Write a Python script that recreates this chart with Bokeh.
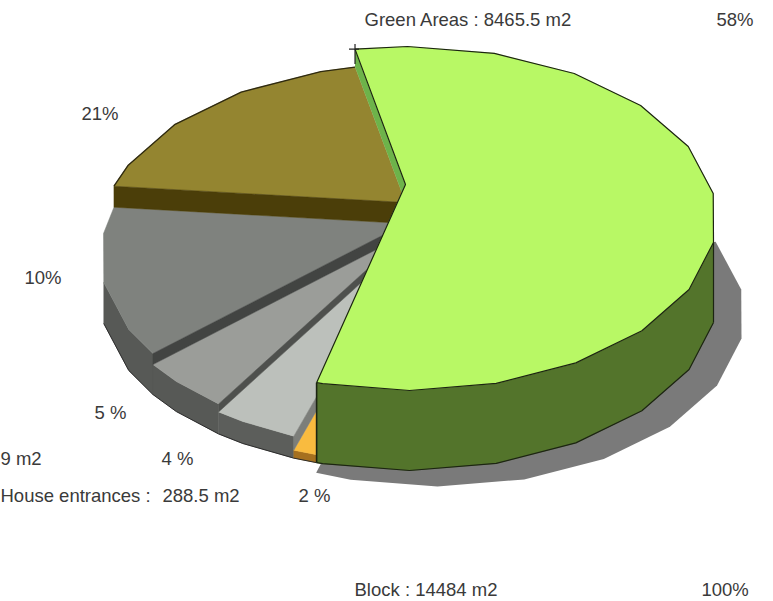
import math
from bokeh.plotting import figure
from bokeh.models import Range1d
from bokeh.core.properties import value
from bokeh.embed import file_html
from bokeh.resources import INLINE

# Slices clockwise from the top
slice_names = ["Green Areas", "House entrances", "Light grey", "Mid grey", "Dark grey", "Olive"]
slice_share_pct = [57.6, 1.25, 4.5, 5.0, 14.15, 17.5]   # as actually drawn in the picture
slice_height = [80, 8, 22, 30, 41, 62]
top_colors = ["#b8f865", "#f9bb3f", "#bcc0bb", "#9b9d99", "#7f827e", "#948530"]
side_colors = ["#53742b", "#a5701f", "#5c5e5b", "#575956", "#575956", "#4b3e09"]
radial_wall_colors = ["#6db34a", None, "#7c7e7a", "#4e504d", "#424442", "#4b3e09"]

labels = ["Green Areas : 8465.5 m2", "58%", "21%", "10%", "5 %", "9 m2", "4 %",
          "House entrances :", "288.5 m2", "2 %", "Block : 14484 m2", "100%"]
label_x = [364, 716, 81, 24, 94, 0, 161, 0, 162, 298, 354, 701]
label_y = [19, 19, 113, 277, 412, 458, 458, 495, 495, 495, 589, 589]

# Projection of the pie on the page (image pixels)
CX, BASE_CY, RX, RY = 408, 298, 308, 172
APEX_DX, APEX_DY = -3, -34
START_DEG = 100.0
FACET_DEG = 360 / 22
FACET_OFFSET = -8.0
WALL_LIMIT_DEG = FACET_OFFSET - 10 * FACET_DEG
SHADOW_DX, SHADOW_DY = 28, 16
LINE = "#1c2412"

W, H = 773, 601
p = figure(width=W, height=H, x_range=Range1d(0, W), y_range=Range1d(H, 0),
           output_backend="svg", toolbar_location=None, min_border=0,
           x_axis_location=None, y_axis_location=None)
p.grid.visible = False
p.outline_line_color = None
p.background_fill_color = "white"


def rim(a, h, dx=0, dy=0):
    r = math.radians(a)
    return CX + dx + RX * math.cos(r), BASE_CY - h + dy - RY * math.sin(r)


def arc_angles(a0, a1):
    """Angles from a0 down to a1 (clockwise) through the facet vertices."""
    out = [a0]
    k = math.floor((a0 - FACET_OFFSET) / FACET_DEG)
    a = FACET_OFFSET + k * FACET_DEG
    while a > a1 + 0.3:
        if a < a0 - 0.3:
            out.append(a)
        a -= FACET_DEG
    out.append(a1)
    return out


def arc(a0, a1, h, dx=0, dy=0):
    pts = [rim(a, h, dx, dy) for a in arc_angles(a0, a1)]
    return [q[0] for q in pts], [q[1] for q in pts]


def apex(h):
    return CX + APEX_DX, BASE_CY - h + APEX_DY


def wall_span(a0, a1):
    """Part of a slice's outer wall that faces the viewer."""
    lo, hi = max(a1, WALL_LIMIT_DEG), min(a0, FACET_OFFSET)
    return (hi, lo) if hi > lo else None


# Slice boundaries from the shares
edges = [START_DEG]
for s in slice_share_pct:
    edges.append(edges[-1] - s * 3.6)

# Shadow on the ground
sx, sy = arc(25, -113, 0, SHADOW_DX, SHADOW_DY)
p.patch(sx + [CX], sy + [BASE_CY], fill_color="#7a7a7a", line_color=None)

draw_order = [5, 4, 3, 2, 1]
for i in draw_order:
    a0, a1, h = edges[i], edges[i + 1], slice_height[i]
    span = wall_span(a0, a1)
    if span:
        tx, ty = arc(span[0], span[1], h)
        bx, by = arc(span[0], span[1], 0)
        p.patch(tx + bx[::-1], ty + by[::-1], fill_color=side_colors[i], line_color=side_colors[i], line_width=0.5)
        p.line(bx, by, line_color="#2b2b2b", line_width=1)
    tx, ty = arc(a0, a1, h)
    ax, ay = apex(h)
    p.patch(tx + [ax], ty + [ay], fill_color=top_colors[i], line_color=top_colors[i], line_width=0.5)

# Radial walls: each higher slice steps down to the one before it
for i in (2, 3, 4, 5):
    a0, h, nh = edges[i], slice_height[i], slice_height[i - 1]
    c1, c2, a_hi, a_lo = rim(a0, h), rim(a0, nh), apex(h), apex(nh)
    p.patch([c1[0], a_hi[0], a_lo[0], c2[0]], [c1[1], a_hi[1], a_lo[1], c2[1]],
            fill_color=radial_wall_colors[i], line_color=radial_wall_colors[i], line_width=0.5)

tx, ty = arc(edges[5], edges[6], slice_height[5])
p.line(tx, ty, line_color="#2f2a10", line_width=1.4)

# Green slice on top of everything
a0, a1, h = edges[0], edges[1], slice_height[0]
tx, ty = arc(a0, a1, h)
ax, ay = apex(h)
c2, a_lo = rim(a0, slice_height[5]), apex(slice_height[5])
p.patch([tx[0], ax, a_lo[0], c2[0]], [ty[0], ay, a_lo[1], c2[1]],
        fill_color=radial_wall_colors[0], line_color=None)
span = wall_span(a0, a1)
wx, wy = arc(span[0], span[1], h)
bx, by = arc(span[0], span[1], 0)
p.patch(wx + bx[::-1], wy + by[::-1], fill_color=side_colors[0], line_color=side_colors[0], line_width=0.5)
p.patch(tx + [ax], ty + [ay], fill_color=top_colors[0], line_color=top_colors[0], line_width=0.5)
p.line(tx, ty, line_color=LINE, line_width=1.2)
p.line(bx, by, line_color=LINE, line_width=1.2)
p.line([bx[0], wx[0]], [by[0], wy[0]], line_color=LINE, line_width=1.2)
p.line([tx[0], ax, tx[-1]], [ty[0], ay, ty[-1]], line_color=LINE, line_width=1.2)
p.line([tx[-1], bx[-1]], [ty[-1], by[-1]], line_color=LINE, line_width=1.6)
# small drawing cross at the first corner
p.line([tx[0] - 6, tx[0] + 4], [ty[0], ty[0]], line_color="#222222", line_width=1.2)
p.line([tx[0], tx[0]], [ty[0] - 5, ty[0] + 15], line_color="#222222", line_width=1.2)

p.text(x=label_x, y=label_y, text=labels, text_font=value("Liberation Sans"),
       text_font_size="18.5px", text_color="#3a3a3a", text_baseline="middle", text_align="left")

open("out.html", "w").write(file_html(p, INLINE))
